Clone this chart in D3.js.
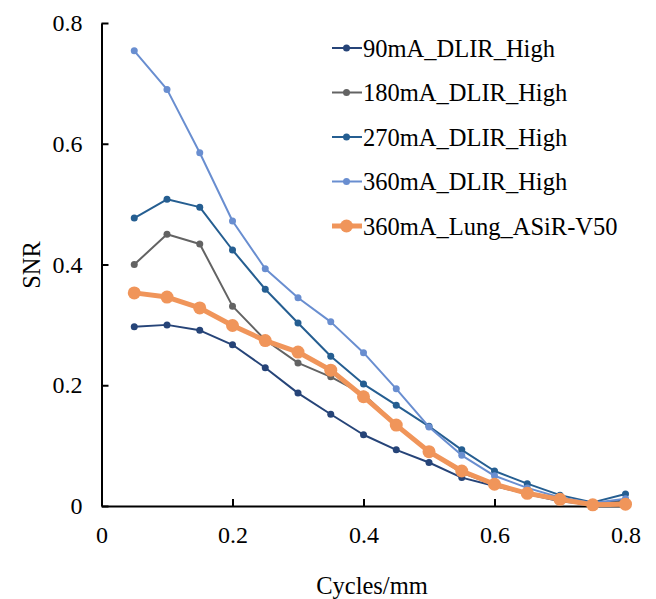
<!DOCTYPE html>
<html>
<head>
<meta charset="utf-8">
<script src="https://cdn.jsdelivr.net/npm/d3@7"></script>
<style>
  body { margin: 0; background: #fff; }
</style>
</head>
<body>
<script>
// spatial frequency (cycles/mm)
var freq = [0.05, 0.1, 0.15, 0.2, 0.25, 0.3, 0.35, 0.4, 0.45, 0.5, 0.55, 0.6, 0.65, 0.7, 0.75, 0.8];

var snr90  = [0.297, 0.300, 0.291, 0.267, 0.229, 0.187, 0.152, 0.118, 0.093, 0.072, 0.047, 0.033, 0.020, 0.008, 0.002, 0.010];
var snr180 = [0.400, 0.450, 0.434, 0.331, 0.275, 0.237, 0.214, 0.185, 0.135, 0.090, 0.055, 0.035, 0.022, 0.010, 0.003, 0.008];
var snr270 = [0.477, 0.508, 0.495, 0.424, 0.359, 0.303, 0.248, 0.202, 0.167, 0.132, 0.093, 0.058, 0.037, 0.018, 0.006, 0.020];
var snr360 = [0.754, 0.690, 0.585, 0.472, 0.393, 0.345, 0.305, 0.254, 0.194, 0.131, 0.084, 0.050, 0.030, 0.014, 0.005, 0.012];
var snrLung = [0.353, 0.346, 0.328, 0.299, 0.274, 0.255, 0.225, 0.181, 0.134, 0.090, 0.058, 0.036, 0.021, 0.011, 0.002, 0.003];

var seriesNames = ["90mA_DLIR_High", "180mA_DLIR_High", "270mA_DLIR_High", "360mA_DLIR_High", "360mA_Lung_ASiR-V50"];
var seriesValues = [snr90, snr180, snr270, snr360, snrLung];
var seriesColors = ["#264478", "#636363", "#255e91", "#698ed0", "#f0955a"];

var xTicks = [0, 0.2, 0.4, 0.6, 0.8];
var yTicks = [0, 0.2, 0.4, 0.6, 0.8];

function init()
{
    var w = 656;
    var h = 599;
    var left = 101.5, right = 625.5, top = 23, bottom = 506;
    var serif = "'Liberation Serif'";

    var svg = d3.select("body")
                .append("svg")
                .attr("width", w)
                .attr("height", h);

    var x = d3.scaleLinear().domain([0, 0.8]).range([left, right]);
    var y = d3.scaleLinear().domain([0, 0.8]).range([bottom, top]);

    // axes, ticks point inward
    var fmt = function(d) { return d === 0 ? "0" : d3.format(".1f")(d); };
    var xAxis = d3.axisBottom(x).tickValues(xTicks).tickSizeInner(-7).tickSizeOuter(0)
                  .tickPadding(20).tickFormat(fmt);
    var yAxis = d3.axisLeft(y).tickValues(yTicks).tickSizeInner(-7).tickSizeOuter(0)
                  .tickPadding(19).tickFormat(fmt);

    var gx = svg.append("g").attr("transform", "translate(0," + bottom + ")").call(xAxis);
    var gy = svg.append("g").attr("transform", "translate(" + left + ",0)").call(yAxis);

    [gx, gy].forEach(function(g) {
        g.select(".domain").attr("stroke", "#000").attr("stroke-width", 2);
        g.selectAll(".tick line").attr("stroke", "#000").attr("stroke-width", 2);
        g.selectAll(".tick text")
         .style("font-family", serif)
         .style("font-size", "24px")
         .attr("fill", "#000");
    });

    svg.append("text")
       .attr("x", 372).attr("y", 594)
       .attr("text-anchor", "middle")
       .style("font-family", serif)
       .style("font-size", "24.5px")
       .text("Cycles/mm");

    svg.append("text")
       .attr("transform", "translate(40,265) rotate(-90)")
       .attr("text-anchor", "middle")
       .style("font-family", serif)
       .style("font-size", "24.5px")
       .text("SNR");

    var line = d3.line()
                 .x(function(d, i) { return x(freq[i]); })
                 .y(function(d) { return y(d); });

    seriesValues.forEach(function(vals, k) {
        var thick = k === 4;
        var g = svg.append("g");
        g.append("path")
         .datum(vals)
         .attr("d", line)
         .attr("fill", "none")
         .attr("stroke", seriesColors[k])
         .attr("stroke-width", thick ? 5 : 2)
         .attr("stroke-linejoin", "round");
        g.selectAll("circle")
         .data(vals)
         .enter()
         .append("circle")
         .attr("cx", function(d, i) { return x(freq[i]); })
         .attr("cy", function(d) { return y(d); })
         .attr("r", thick ? 6.5 : 3.5)
         .attr("fill", seriesColors[k]);
    });

    // legend
    var legend = svg.append("g");
    seriesNames.forEach(function(name, k) {
        var ly = 48 + k * 44.5;
        var thick = k === 4;
        legend.append("line")
              .attr("x1", 332).attr("x2", 362)
              .attr("y1", ly).attr("y2", ly)
              .attr("stroke", seriesColors[k])
              .attr("stroke-width", thick ? 5 : 2);
        legend.append("circle")
              .attr("cx", 346.5).attr("cy", ly)
              .attr("r", thick ? 6.5 : 3.5)
              .attr("fill", seriesColors[k]);
        legend.append("text")
              .attr("x", 363).attr("y", ly + 8.5)
              .style("font-family", serif)
              .style("font-size", "24.5px")
              .text(name);
    });
}
window.onload = init;
</script>
</body>
</html>
